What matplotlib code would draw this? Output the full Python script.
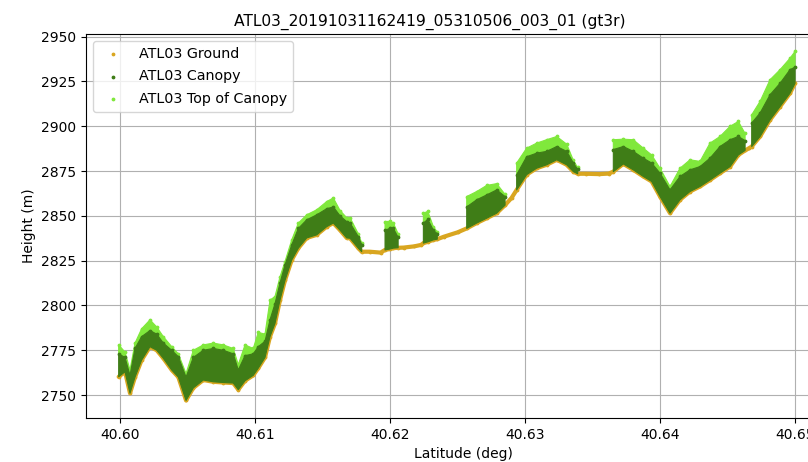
import numpy as np
import matplotlib
matplotlib.use("Agg")
import matplotlib.pyplot as plt

nan = np.nan

# Latitude (deg)
lat = [40.59990, 40.60037, 40.60074, 40.60111, 40.60160, 40.60222, 40.60272, 40.60321,
       40.60383, 40.60432, 40.60489, 40.60543, 40.60617, 40.60691, 40.60765, 40.60839,
       40.60876, 40.60926, 40.60987, 40.61024, 40.61074, 40.61111, 40.61148, 40.61185,
       40.61222, 40.61272, 40.61321, 40.61383, 40.61457, 40.61531, 40.61580, 40.61630,
       40.61679, 40.61704, 40.61765, 40.61790,
       40.61850, 40.61930,
       40.61963, 40.62000, 40.62025, 40.62060,
       40.62100, 40.62180, 40.62230,
       40.62247, 40.62280, 40.62321, 40.62350,
       40.62400, 40.62500,
       40.62568, 40.62642, 40.62716, 40.62790, 40.62852,
       40.62900,
       40.62938, 40.63012, 40.63086, 40.63160, 40.63235, 40.63309, 40.63358, 40.63390,
       40.63450, 40.63550, 40.63620,
       40.63654, 40.63728, 40.63802, 40.63876, 40.63938, 40.64000, 40.64074, 40.64148,
       40.64222, 40.64296, 40.64370, 40.64444, 40.64519, 40.64580, 40.64630,
       40.64660,
       40.64679, 40.64741, 40.64815, 40.64889, 40.64963, 40.65000]

# ATL03 ground height (m)
ground = [2760.2, 2763.0, 2751.0, 2760.0, 2769.5, 2777.0, 2775.0, 2770.5,
          2764.0, 2760.0, 2747.0, 2754.0, 2758.4, 2757.4, 2757.0, 2756.7,
          2753.0, 2758.0, 2761.0, 2765.0, 2771.0, 2782.6, 2790.0, 2803.0,
          2814.0, 2825.4, 2832.0, 2837.7, 2839.4, 2844.0, 2846.0, 2842.0,
          2837.7, 2837.5, 2832.0, 2830.0,
          2830.0, 2829.5,
          2831.0, 2831.5, 2832.0, 2832.2,
          2832.3, 2833.0, 2833.8,
          2834.8, 2835.5, 2836.6, 2837.0,
          2838.4, 2840.8,
          2843.0, 2846.0, 2848.7, 2851.5, 2856.0,
          2860.0,
          2864.5, 2873.0, 2876.6, 2878.5, 2881.3, 2878.5, 2874.7, 2873.5,
          2873.5, 2873.3, 2873.6,
          2874.7, 2879.0, 2875.7, 2872.0, 2869.2, 2860.8, 2851.5, 2859.0,
          2863.6, 2866.4, 2870.0, 2873.8, 2877.5, 2884.0, 2886.5,
          2887.8,
          2888.7, 2894.3, 2903.6, 2911.0, 2918.5, 2924.0]

# ATL03 canopy height (upper edge of the canopy photons, m)
canopy = [2773.0, 2771.0, 2761.0, 2776.0, 2782.6, 2786.0, 2784.0, 2779.0,
          2775.0, 2771.4, 2760.0, 2771.0, 2775.0, 2776.0, 2775.0, 2773.0,
          2764.0, 2772.0, 2773.0, 2777.0, 2780.0, 2792.0, 2801.0, 2812.5,
          2822.6, 2833.8, 2843.0, 2847.8, 2850.6, 2854.0, 2855.0, 2850.0,
          2846.8, 2846.0, 2838.4, 2834.0,
          nan, nan,
          2842.0, 2843.0, 2843.0, 2838.0,
          nan, nan, nan,
          2846.0, 2848.0, 2842.0, 2840.0,
          nan, nan,
          2855.0, 2859.0, 2861.7, 2864.5, 2860.8,
          nan,
          2873.0, 2883.0, 2885.0, 2886.0, 2888.7, 2886.0, 2879.5, 2876.0,
          nan, nan, nan,
          2887.0, 2888.7, 2886.0, 2882.2, 2879.5, 2873.8, 2864.5, 2872.0,
          2875.7, 2877.5, 2882.2, 2888.7, 2892.5, 2894.3, 2892.0,
          nan,
          2901.8, 2907.4, 2917.6, 2924.0, 2931.6, 2933.0]

# ATL03 top of canopy height (m)
toc = [2778.0, 2774.0, 2764.0, 2779.0, 2787.0, 2792.0, 2788.0, 2782.6,
       2777.0, 2773.0, 2762.0, 2775.0, 2778.0, 2779.0, 2778.0, 2776.0,
       2767.0, 2778.0, 2776.0, 2785.0, 2784.0, 2803.0, 2805.0, 2816.0,
       2824.5, 2836.6, 2846.0, 2850.6, 2853.4, 2858.0, 2860.0, 2853.0,
       2849.0, 2849.0, 2840.0, 2835.0,
       nan, nan,
       2846.8, 2847.0, 2846.0, 2840.0,
       nan, nan, nan,
       2851.5, 2852.5, 2844.0, 2841.0,
       nan, nan,
       2860.8, 2863.6, 2867.0, 2868.0, 2862.0,
       nan,
       2879.5, 2887.8, 2890.6, 2892.5, 2894.3, 2890.0, 2881.0, 2877.0,
       nan, nan, nan,
       2892.5, 2892.8, 2892.5, 2887.8, 2884.0, 2876.6, 2866.4, 2876.6,
       2881.3, 2880.4, 2890.6, 2894.3, 2900.0, 2902.7, 2896.0,
       nan,
       2906.4, 2913.9, 2926.0, 2931.6, 2938.0, 2941.8]

title = "ATL03_20191031162419_05310506_003_01 (gt3r)"
series_labels = ["ATL03 Ground", "ATL03 Canopy", "ATL03 Top of Canopy"]
x_ticks = [40.60, 40.61, 40.62, 40.63, 40.64, 40.65]
y_ticks = [2750, 2775, 2800, 2825, 2850, 2875, 2900, 2925, 2950]
c_ground = "#d9a620"
c_canopy = "#3f7d17"
c_toc = "#80e83c"

lat_a = np.array(lat)
g_a = np.array(ground)
c_a = np.array(canopy)
t_a = np.array(toc)

fig = plt.figure(figsize=(8.08, 4.62), dpi=100)
ax = fig.add_axes([86 / 808, 44 / 462, 754 / 808, 384 / 462])

# ground
ax.plot(lat_a, g_a, color=c_ground, lw=3.0, zorder=2, solid_capstyle="round")
hg = ax.scatter(lat_a, g_a, s=3, color=c_ground, zorder=2, label=series_labels[0])
# top of canopy band
ax.fill_between(lat_a, c_a, t_a, color=c_toc, lw=0.8, edgecolor=c_toc, zorder=3)
ht = ax.scatter(lat_a, t_a, s=3, color=c_toc, zorder=3, label=series_labels[2])
# canopy band
ax.fill_between(lat_a, g_a, c_a, color=c_canopy, lw=0.8, edgecolor=c_canopy, zorder=4)
hc = ax.scatter(lat_a, c_a, s=3, color=c_canopy, zorder=4, label=series_labels[1])

ax.set_xlim(40.59748, 40.65333)
ax.set_ylim(2737.2, 2951.5)
ax.set_xticks(x_ticks)
ax.set_yticks(y_ticks)
ax.xaxis.set_major_formatter(plt.FormatStrFormatter("%.2f"))
ax.grid(True, color="#b0b0b0", lw=0.8)
ax.set_axisbelow(True)
ax.set_xlabel("Latitude (deg)")
ax.set_ylabel("Height (m)")
t = ax.set_title(title, fontsize=11.2)
t.set_x((430 - 86) / 754)
ax.legend(handles=[hg, hc, ht], labels=series_labels, loc="upper left",
          fontsize=10.3, labelspacing=0.6)

fig.savefig("out.png", dpi=100)
